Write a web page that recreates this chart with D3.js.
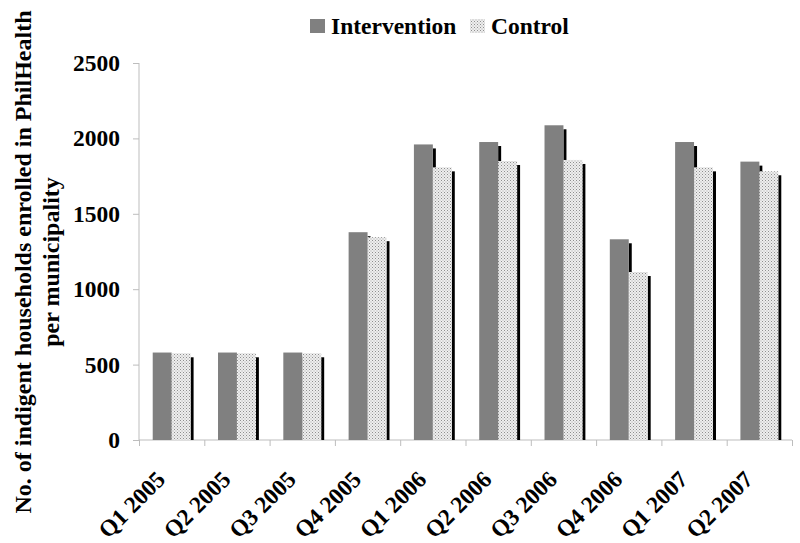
<!DOCTYPE html>
<html><head><meta charset="utf-8">
<script src="https://cdn.jsdelivr.net/npm/d3@7"></script>
<style>body{margin:0;background:#fff}svg{display:block}</style>
</head><body>
<svg id="c" width="800" height="543"></svg>
<script>
const categories = ["Q1 2005","Q2 2005","Q3 2005","Q4 2005","Q1 2006","Q2 2006","Q3 2006","Q4 2006","Q1 2007","Q2 2007"];
const intervention = [580,580,580,1378,1960,1976,2087,1331,1976,1846];
const control = [575,575,575,1345,1808,1850,1857,1114,1808,1782];
const seriesNames = ["Intervention","Control"];
const yTicks = [0,500,1000,1500,2000,2500];

const svg = d3.select("#c");
const font = "'Liberation Serif','Times New Roman',serif";
const defs = svg.append("defs");
const pat = defs.append("pattern").attr("id","dots").attr("patternUnits","userSpaceOnUse").attr("width",3).attr("height",3);
pat.append("rect").attr("width",3).attr("height",3).attr("fill","#eeeeee");
pat.append("rect").attr("x",0).attr("y",0).attr("width",1).attr("height",1).attr("fill","#8e8e8e");
pat.append("rect").attr("x",1.5).attr("y",1.5).attr("width",1).attr("height",1).attr("fill","#a8a8a8");

const x0 = d3.scaleBand().domain(categories).range([139,792]).paddingInner(0.42).paddingOuter(0.21);
const x1 = d3.scaleBand().domain(seriesNames).range([0,x0.bandwidth()]);
const y = d3.scaleLinear().domain([0,2500]).range([440,63]);
const fills = {Intervention:"#808080", Control:"url(#dots)"};

// axes
const yAx = svg.append("g").attr("transform","translate(139,0)")
  .call(d3.axisLeft(y).tickValues(yTicks).tickSize(6).tickPadding(13).tickFormat(d3.format("d")));
const xAx = svg.append("g").attr("transform","translate(0,440)")
  .call(d3.axisBottom(d3.scaleLinear().domain([0,categories.length]).range([139,792])).ticks(10).tickSize(6).tickFormat(""));
[yAx,xAx].forEach(a=>{a.selectAll("path,line").attr("stroke","#bdbdbd");});
xAx.select(".domain").attr("d","M139,0H792");
yAx.select(".domain").attr("d","M0,63V440");
yAx.selectAll("text").attr("font-family",font).attr("font-weight","bold").attr("font-size",23.5).attr("fill","#000");

// bars
const g = svg.append("g");
categories.forEach((c,i)=>{
  const vals = [intervention[i], control[i]];
  seriesNames.forEach((s,j)=>{
    const bx = x0(c)+x1(s), w = x1.bandwidth(), top = y(vals[j]);
    g.append("rect").attr("x",bx+w).attr("y",top+4).attr("width",3).attr("height",y(0)-top-4).attr("fill","#000");
    g.append("rect").attr("x",bx).attr("y",top).attr("width",w).attr("height",y(0)-top).attr("fill",fills[s]);
  });
});

// x labels
categories.forEach(c=>{
  const cx = x0(c)+x0.bandwidth()/2-5;
  svg.append("text").attr("transform",`translate(${cx},${481}) rotate(-45)`)
    .attr("text-anchor","end").attr("font-family",font).attr("font-weight","bold").attr("font-size",23.5).attr("fill","#000").text(c);
});

// y title
const yt = svg.append("text").attr("transform","translate(0,262) rotate(-90)")
  .attr("text-anchor","middle").attr("font-family",font).attr("font-weight","bold").attr("font-size",24).attr("fill","#000");
yt.append("tspan").attr("x",0).attr("y",31).text("No. of indigent households enrolled in PhilHealth");
yt.append("tspan").attr("x",0).attr("y",59).text("per municipality");

// legend
const lg = svg.append("g");
const items = [{n:"Intervention",x:310},{n:"Control",x:470}];
items.forEach(it=>{
  lg.append("rect").attr("x",it.x).attr("y",19).attr("width",15).attr("height",14).attr("fill",fills[it.n]);
  lg.append("text").attr("x",it.x+21).attr("y",34).attr("font-family",font).attr("font-weight","bold").attr("font-size",23.5).attr("fill","#000").text(it.n);
});
</script>
</body></html>
